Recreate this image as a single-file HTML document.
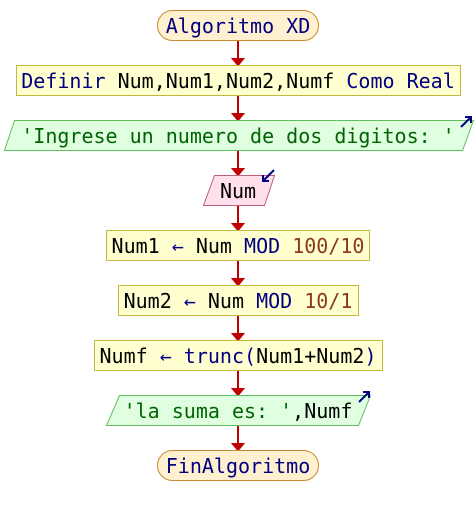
<!DOCTYPE html>
<html><head><meta charset="utf-8"><style>
body{margin:0;background:#fff}
svg text{font-family:"DejaVu Sans Mono","Liberation Mono",monospace;font-size:20px;dominant-baseline:central;text-anchor:middle}
.k{fill:#000080}.v{fill:#000}.n{fill:#8b3a1a}.s{fill:#006400}
</style></head><body>
<svg width="476" height="515" viewBox="0 0 476 515" xmlns="http://www.w3.org/2000/svg">
<defs><marker id="a" markerWidth="10" markerHeight="10" refX="5" refY="8" orient="auto" markerUnits="userSpaceOnUse"><path d="M0,0 L10,0 L5,8 z" fill="#c00000" transform="translate(0,0)"/></marker></defs>
<g stroke="#c00000" stroke-width="2">
<line x1="238" y1="40" x2="238" y2="63"/><path d="M233,59 L243,59 L238,65 z" fill="#c00000"/>
<line x1="238" y1="95" x2="238" y2="118"/><path d="M233,114 L243,114 L238,120 z" fill="#c00000"/>
<line x1="238" y1="150" x2="238" y2="173"/><path d="M233,169 L243,169 L238,175 z" fill="#c00000"/>
<line x1="238" y1="205" x2="238" y2="228"/><path d="M233,224 L243,224 L238,230 z" fill="#c00000"/>
<line x1="238" y1="260" x2="238" y2="283"/><path d="M233,279 L243,279 L238,285 z" fill="#c00000"/>
<line x1="238" y1="315" x2="238" y2="338"/><path d="M233,334 L243,334 L238,340 z" fill="#c00000"/>
<line x1="238" y1="370" x2="238" y2="393"/><path d="M233,389 L243,389 L238,395 z" fill="#c00000"/>
<line x1="238" y1="425" x2="238" y2="448"/><path d="M233,444 L243,444 L238,450 z" fill="#c00000"/>
</g>
<rect x="157.5" y="10.5" width="161" height="30" rx="15" fill="#fff0d0" stroke="#c88a30"/>
<text x="238" y="26" class="k">Algoritmo XD</text>
<rect x="16.5" y="65.5" width="444" height="30" fill="#ffffd0" stroke="#c0b840"/>
<text x="238" y="81"><tspan class="k">Definir </tspan><tspan class="v">Num,Num1,Num2,Numf</tspan><tspan class="k"> Como Real</tspan></text>
<polygon points="14.5,120.5 473.5,120.5 462.5,150.5 4.5,150.5" fill="#e0ffe0" stroke="#60c060"/>
<text x="238" y="136" class="s">'Ingrese un numero de dos digitos: '</text>
<path d="M461,127 L471,117 M465,117 L471,117 L471,123" stroke="#000080" stroke-width="2" fill="none"/>
<polygon points="214.5,175.5 274.5,175.5 264.5,205.5 203.5,205.5" fill="#ffe0ec" stroke="#c06080"/>
<text x="238" y="191" class="v">Num</text>
<path d="M274,170 L263,181 M263,175 L263,181 L269,181" stroke="#000080" stroke-width="2" fill="none"/>
<rect x="106.5" y="230.5" width="263" height="30" fill="#ffffd0" stroke="#c0b840"/>
<text x="238" y="246"><tspan class="v">Num1 </tspan><tspan class="k">←</tspan><tspan class="v"> Num </tspan><tspan class="k">MOD</tspan><tspan class="n"> 100/10</tspan></text>
<rect x="118.5" y="285.5" width="240" height="30" fill="#ffffd0" stroke="#c0b840"/>
<text x="238" y="301"><tspan class="v">Num2 </tspan><tspan class="k">←</tspan><tspan class="v"> Num </tspan><tspan class="k">MOD</tspan><tspan class="n"> 10/1</tspan></text>
<rect x="94.5" y="340.5" width="288" height="30" fill="#ffffd0" stroke="#c0b840"/>
<text x="238" y="356"><tspan class="v">Numf </tspan><tspan class="k">←</tspan><tspan class="k"> trunc(</tspan><tspan class="v">Num1+Num2</tspan><tspan class="k">)</tspan></text>
<polygon points="119.5,395.5 370.5,395.5 358.5,425.5 106.5,425.5" fill="#e0ffe0" stroke="#60c060"/>
<text x="238" y="411"><tspan class="s">'la suma es: '</tspan><tspan class="v">,Numf</tspan></text>
<path d="M359,402 L369,392 M363,392 L369,392 L369,398" stroke="#000080" stroke-width="2" fill="none"/>
<rect x="157.5" y="450.5" width="161" height="30" rx="15" fill="#fff0d0" stroke="#c88a30"/>
<text x="238" y="466" class="k">FinAlgoritmo</text>
</svg>
</body></html>
